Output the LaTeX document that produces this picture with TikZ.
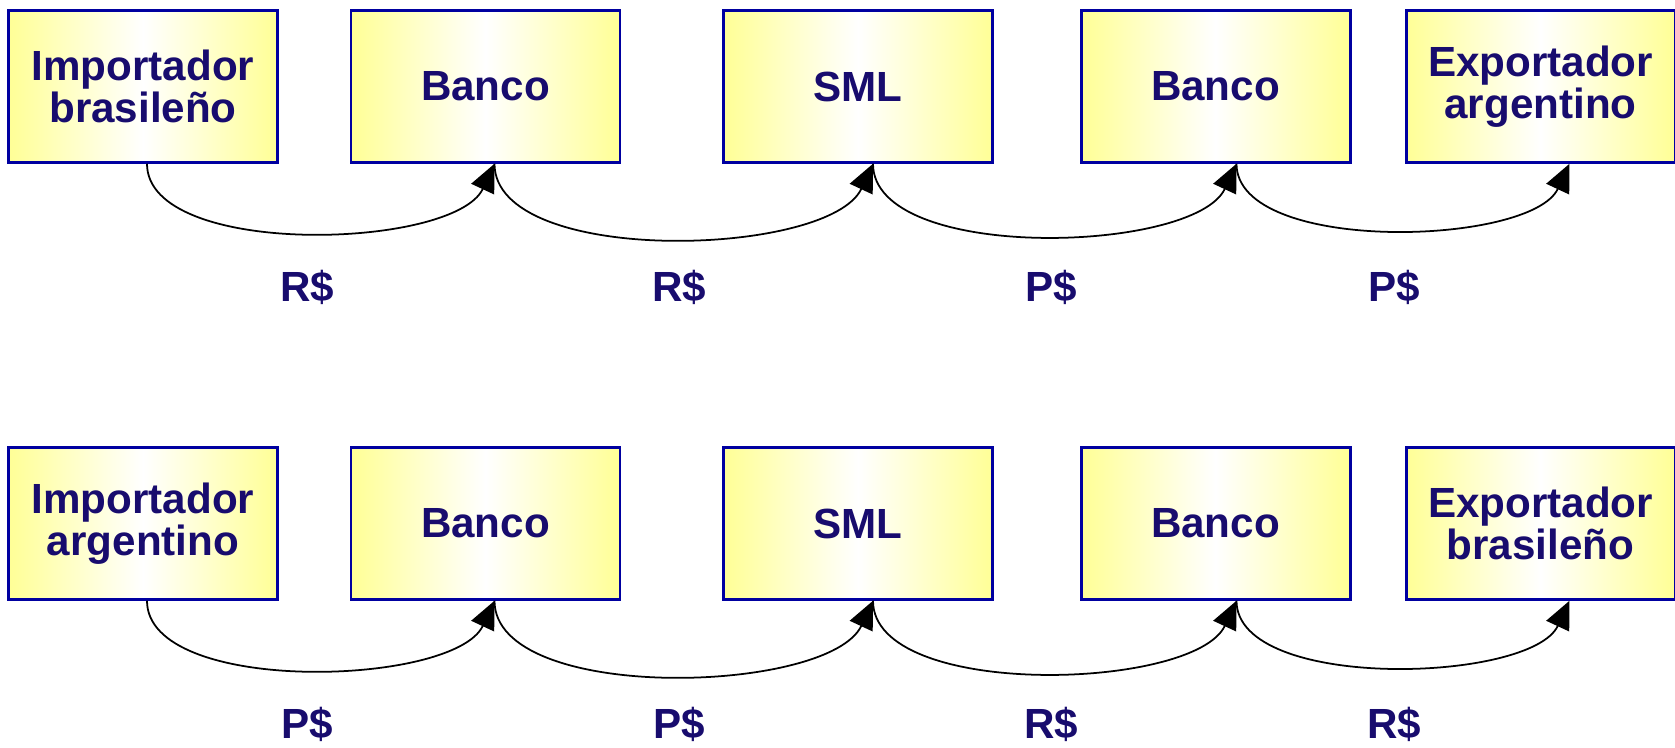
\documentclass[tikz,border=0pt]{standalone}
\usepackage{fontspec}
\setmainfont{Liberation Sans}
\usetikzlibrary{arrows.meta}
\definecolor{inkblue}{RGB}{24,12,110}
\definecolor{boxedge}{RGB}{0,0,160}
\definecolor{paleyellow}{RGB}{255,255,150}
\tikzset{
	box/.style={draw=boxedge, line width=1.7pt, minimum width=5.38cm, minimum height=3.03cm, inner sep=0pt,
		left color=paleyellow, right color=paleyellow, middle color=white,
		text=inkblue, font=\fontsize{24}{24}\selectfont\bfseries, align=center},
	flow/.style={line width=1pt, -{Triangle[length=0.56cm,width=0.5cm]}, out=-90, in=-115, looseness=0.7},
	money/.style={text=inkblue, font=\fontsize{24}{24}\selectfont\bfseries, anchor=base}
}

\begin{document}
\begin{tikzpicture}
		%%%%% START %%%%%
		\useasboundingbox (0, 0) rectangle (33.5, -14.94);
		
		% upper chain
		\node[box] (ibr) at (2.86, -1.73) {Importador\\brasileño};
		\node[box] (bk1) at (9.71, -1.73) {Banco};
		\node[box] (sml1) at (17.16, -1.73) {SML};
		\node[box] (bk2) at (24.31, -1.73) {Banco};
		\node[box] (ear) at (30.81, -1.73) {Exportador\\argentino};
		
		\draw[flow] ([xshift=0.08cm]ibr.south) to ([xshift=0.18cm]bk1.south);
		\draw[flow] ([xshift=0.18cm]bk1.south) to ([xshift=0.3cm]sml1.south);
		\draw[flow] ([xshift=0.3cm]sml1.south) to ([xshift=0.42cm]bk2.south);
		\draw[flow] ([xshift=0.42cm]bk2.south) to ([xshift=0.58cm]ear.south);
		
		\node[money] (m1) at (6.15, -6.02) {R\$};
		\node[money] (m2) at (13.58, -6.02) {R\$};
		\node[money] (m3) at (21.02, -6.02) {P\$};
		\node[money] (m4) at (27.88, -6.02) {P\$};
		
		% lower chain
		\node[box] (iar) at (2.86, -10.47) {Importador\\argentino};
		\node[box] (bk3) at (9.71, -10.47) {Banco};
		\node[box] (sml2) at (17.16, -10.47) {SML};
		\node[box] (bk4) at (24.31, -10.47) {Banco};
		\node[box] (ebr) at (30.81, -10.47) {Exportador\\brasileño};
		
		\draw[flow] ([xshift=0.08cm]iar.south) to ([xshift=0.18cm]bk3.south);
		\draw[flow] ([xshift=0.18cm]bk3.south) to ([xshift=0.3cm]sml2.south);
		\draw[flow] ([xshift=0.3cm]sml2.south) to ([xshift=0.42cm]bk4.south);
		\draw[flow] ([xshift=0.42cm]bk4.south) to ([xshift=0.58cm]ebr.south);
		
		\node[money] (m5) at (6.15, -14.76) {P\$};
		\node[money] (m6) at (13.58, -14.76) {P\$};
		\node[money] (m7) at (21.02, -14.76) {R\$};
		\node[money] (m8) at (27.88, -14.76) {R\$};
		%%%%% END %%%%%
\end{tikzpicture}
\end{document}
